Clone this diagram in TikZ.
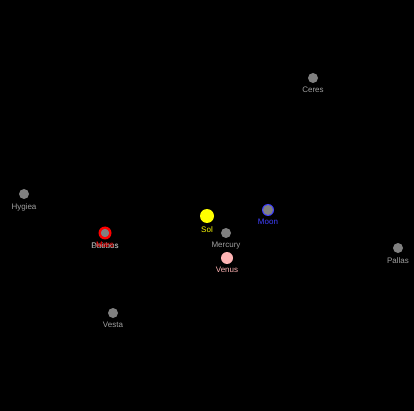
\documentclass[tikz,border=0pt]{standalone}
\usepackage{fontspec}
\setmainfont{Liberation Sans}
\definecolor{SpaceBlack}{HTML}{000000}
\definecolor{RockGray}{HTML}{808080}
\definecolor{LabelGray}{HTML}{A0A0A0}
\definecolor{SunYellow}{HTML}{FFFF00}
\definecolor{VenusPink}{HTML}{FFB4B4}
\definecolor{EarthBlue}{HTML}{4040FF}
\definecolor{MarsRed}{HTML}{FF0000}
\usetikzlibrary{positioning}

\tikzset{
  body/.style={circle, inner sep=0pt, minimum size=#1},
  body/.default=10pt,
  lbl/.style={inner sep=0pt, font=\fontsize{8}{9}\selectfont, text=LabelGray}
}

\begin{document}
\begin{tikzpicture}[x=1pt, y=-1pt]
  \fill[SpaceBlack] (0,0) rectangle (414,411);
  % Asteroids and Mercury
  \foreach \nm/\px/\py in {Ceres/313/78, Hygiea/24/194, Mercury/226/233,
                           Pallas/398/248, Vesta/113/313} {
    \node[body, fill=RockGray] (\nm) at (\px,\py) {};
    \node[lbl, below=4pt of \nm] (\nm-lbl) {\nm};
  }
  % Sun
  \node[body=14pt, fill=SunYellow] (Sol) at (207,216) {};
  \node[lbl, text=SunYellow, below=3pt of Sol] (Sol-lbl) {Sol};
  % Venus
  \node[body=12pt, fill=VenusPink] (Venus) at (227,258) {};
  \node[lbl, text=VenusPink, below=3pt of Venus] (Venus-lbl) {Venus};
  % Earth and Moon
  \node[body=12pt, fill=EarthBlue] (Earth) at (268,210) {};
  \node[body, fill=RockGray] (Moon) at (Earth) {};
  \node[lbl, text=EarthBlue, below=4pt of Moon] (Moon-lbl) {Moon};
  % Mars and its moons
  \node[body=13pt, fill=MarsRed] (Mars) at (105,233) {};
  \node[body=8pt, fill=RockGray] (Phobos) at (Mars) {};
  \node[body=8pt, fill=RockGray] (Deimos) at (Mars) {};
  \node[lbl, below=5pt of Phobos] (Phobos-lbl) {Phobos};
  \node[lbl, below=5pt of Deimos] (Deimos-lbl) {Deimos};
  \node[lbl, text=MarsRed, below=9pt of Mars.center] (Mars-lbl) {Mars};
\end{tikzpicture}
\end{document}
